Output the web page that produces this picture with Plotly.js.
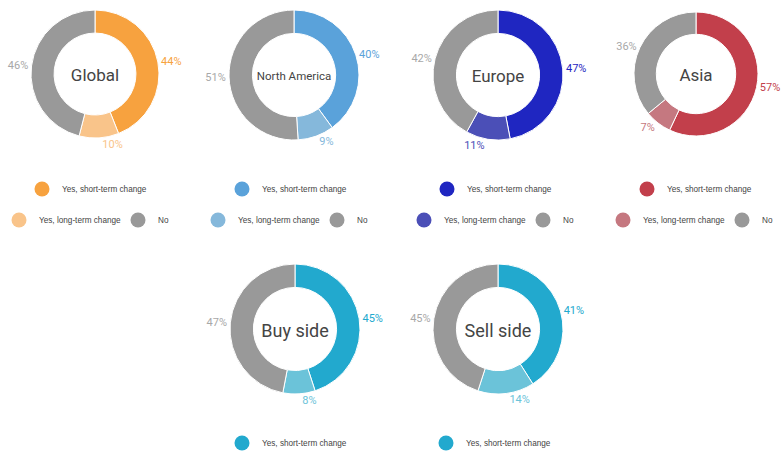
<!DOCTYPE html>
<html><head><meta charset="utf-8">
<script src="https://cdn.plot.ly/plotly-3.0.1.min.js"></script>
<style>html,body{margin:0;padding:0;background:#fff}#chart{width:782px;height:452px}</style>
</head><body><div id="chart"></div>
<script>
const regions = ['Global', 'North America', 'Europe', 'Asia', 'Buy side', 'Sell side'];
const categories = ['Yes, short-term change', 'Yes, long-term change', 'No'];
const shortTerm = [44, 40, 47, 57, 45, 41];
const longTerm = [10, 9, 11, 7, 8, 14];
const noChange = [46, 51, 42, 36, 47, 45];
const shortColors = ['#F7A23F', '#5AA2DA', '#1F26C1', '#C23F4B', '#22A9CE', '#22A9CE'];
const longColors = ['#F9C48A', '#85B8DB', '#4B4FB7', '#C57880', '#6BC3D9', '#6BC3D9'];
const noColor = '#999999';
const showRow2 = [true, true, true, true, false, false];

const W = 782, H = 452;
const centers = [[95, 74], [294, 75], [498, 75], [696, 74], [295, 329], [498, 329]];
const radii = [64, 65, 65, 62, 65, 65];
const titleSizes = [17, 11.5, 17, 17, 18, 18];
const row1Pos = [[42, 189], [242, 189], [447, 189], [647, 189], [242, 443], [446, 443]];
const row2Pos = [[19, 220], [218, 220], [424, 220], [623, 220], null, null];

const legendFont = {family: '"Liberation Sans", Arial, sans-serif', size: 8.2, color: '#444'};
const traces = [];
const layout = {
  width: W, height: H,
  margin: {l: 0, r: 0, t: 0, b: 0, autoexpand: false},
  paper_bgcolor: '#fff', plot_bgcolor: '#fff',
  xaxis: {visible: false, range: [0, 1]},
  yaxis: {visible: false, range: [0, 1]},
  font: {family: 'Roboto, sans-serif', color: '#444'}
};

function legendId(n) { return n === 1 ? 'legend' : 'legend' + n; }

regions.forEach((name, i) => {
  const [cx, cy] = centers[i];
  const R = radii[i];
  const colors = [shortColors[i], longColors[i], noColor];
  traces.push({
    type: 'pie',
    values: [shortTerm[i], longTerm[i], noChange[i]],
    labels: categories,
    sort: false,
    direction: 'clockwise',
    rotation: 0,
    hole: 0.64,
    marker: {colors: colors, line: {color: '#ffffff', width: 1}},
    texttemplate: '%{value}%',
    textposition: 'outside',
    textfont: {family: 'Roboto, sans-serif', size: 11, color: [shortColors[i], longColors[i], '#A8A8A8']},
    title: {text: name, position: 'middle center', font: {family: 'Roboto, sans-serif', size: titleSizes[i], color: '#444'}},
    domain: {x: [(cx - R) / W, (cx + R) / W], y: [1 - (cy + R) / H, 1 - (cy - R) / H]},
    showlegend: false,
    hoverinfo: 'label+value'
  });

  const l1 = legendId(2 * i + 1);
  traces.push({
    type: 'scatter', mode: 'markers', x: [null], y: [null],
    name: categories[0], marker: {color: shortColors[i], size: 15},
    legend: l1, showlegend: true, hoverinfo: 'skip'
  });
  layout[l1] = {
    orientation: 'h', x: (row1Pos[i][0] - 20) / W, y: 1 - row1Pos[i][1] / H,
    xanchor: 'left', yanchor: 'middle', bgcolor: 'rgba(0,0,0,0)',
    font: legendFont, itemclick: false, itemdoubleclick: false
  };
  if (showRow2[i]) {
    const l2 = legendId(2 * i + 2);
    [1, 2].forEach(k => {
      traces.push({
        type: 'scatter', mode: 'markers', x: [null], y: [null],
        name: categories[k], marker: {color: k === 1 ? longColors[i] : noColor, size: 15},
        legend: l2, showlegend: true, hoverinfo: 'skip'
      });
    });
    layout[l2] = {
      orientation: 'h', x: (row2Pos[i][0] - 20) / W, y: 1 - row2Pos[i][1] / H,
      xanchor: 'left', yanchor: 'middle', bgcolor: 'rgba(0,0,0,0)',
      font: legendFont, itemclick: false, itemdoubleclick: false,
      entrywidth: 74
    };
  }
});

Plotly.newPlot('chart', traces, layout, {displayModeBar: false, staticPlot: true});
</script>
</body></html>
